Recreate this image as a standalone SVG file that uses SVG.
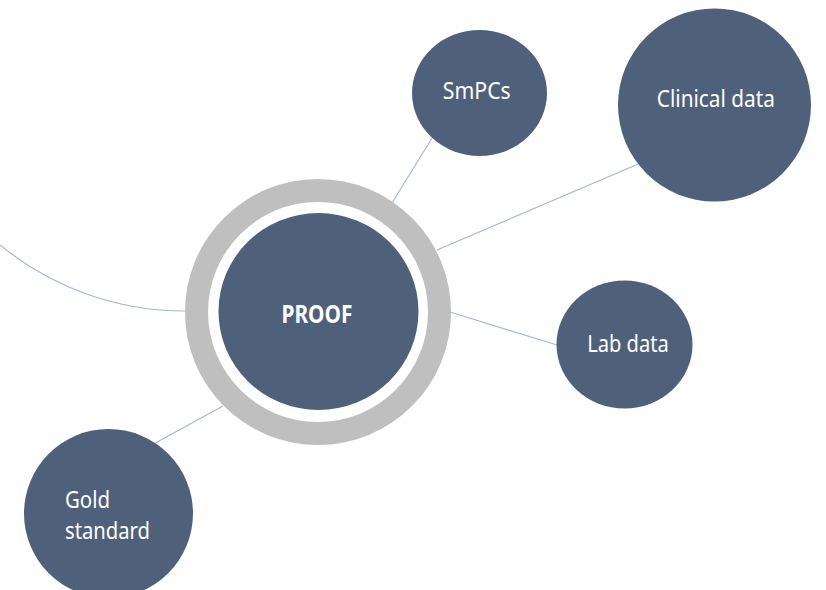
<svg xmlns="http://www.w3.org/2000/svg" width="826" height="590" viewBox="0 0 826 590">
<style>
.conn{stroke:#A8B7CF;stroke-width:1.2;fill:none}
.node{fill:#4F617A}
.lbl{font-family:"Noto Sans","Liberation Sans",sans-serif;font-size:23px;fill:#FFFFFF;text-anchor:middle}
.lblL{font-family:"Noto Sans","Liberation Sans",sans-serif;font-size:23px;fill:#FFFFFF}
.bold{font-weight:bold;font-size:25px}
</style>
<rect width="826" height="590" fill="#FFFFFF"/>
<g id="connectors">
<path class="conn" d="M0,245 A292,292 0 0 0 186,311"/>
<line class="conn" x1="392" y1="203" x2="432" y2="138"/>
<line class="conn" x1="437" y1="250" x2="643" y2="162"/>
<line class="conn" x1="450" y1="312" x2="557" y2="345"/>
<line class="conn" x1="151.7" y1="445" x2="223" y2="406"/>
</g>
<g id="proof">
<circle cx="318" cy="312" r="133" fill="#BFBFBF"/>
<circle cx="318" cy="312" r="110" fill="#FFFFFF"/>
<ellipse class="node" cx="318.5" cy="311.5" rx="100" ry="98.5"/>
<text class="lbl bold" x="317" y="323.3" textLength="71" lengthAdjust="spacingAndGlyphs">PROOF</text>
</g>
<g id="smpcs">
<ellipse class="node" cx="479.5" cy="93" rx="67.5" ry="63"/>
<text class="lbl" x="476.8" y="99.3" textLength="68" lengthAdjust="spacingAndGlyphs">SmPCs</text>
</g>
<g id="clinical-data">
<circle class="node" cx="714.5" cy="105" r="96.5"/>
<text class="lbl" x="715.8" y="107.3" textLength="118" lengthAdjust="spacingAndGlyphs">Clinical data</text>
</g>
<g id="lab-data">
<ellipse class="node" cx="624.5" cy="344.5" rx="68" ry="64"/>
<text class="lbl" x="628" y="352.3" textLength="81.7" lengthAdjust="spacingAndGlyphs">Lab data</text>
</g>
<g id="gold-standard">
<circle class="node" cx="108.5" cy="513.5" r="84.5"/>
<text class="lblL" x="65" y="508.3" textLength="45" lengthAdjust="spacingAndGlyphs">Gold</text>
<text class="lblL" x="65" y="539.3" textLength="85" lengthAdjust="spacingAndGlyphs">standard</text>
</g>
</svg>
